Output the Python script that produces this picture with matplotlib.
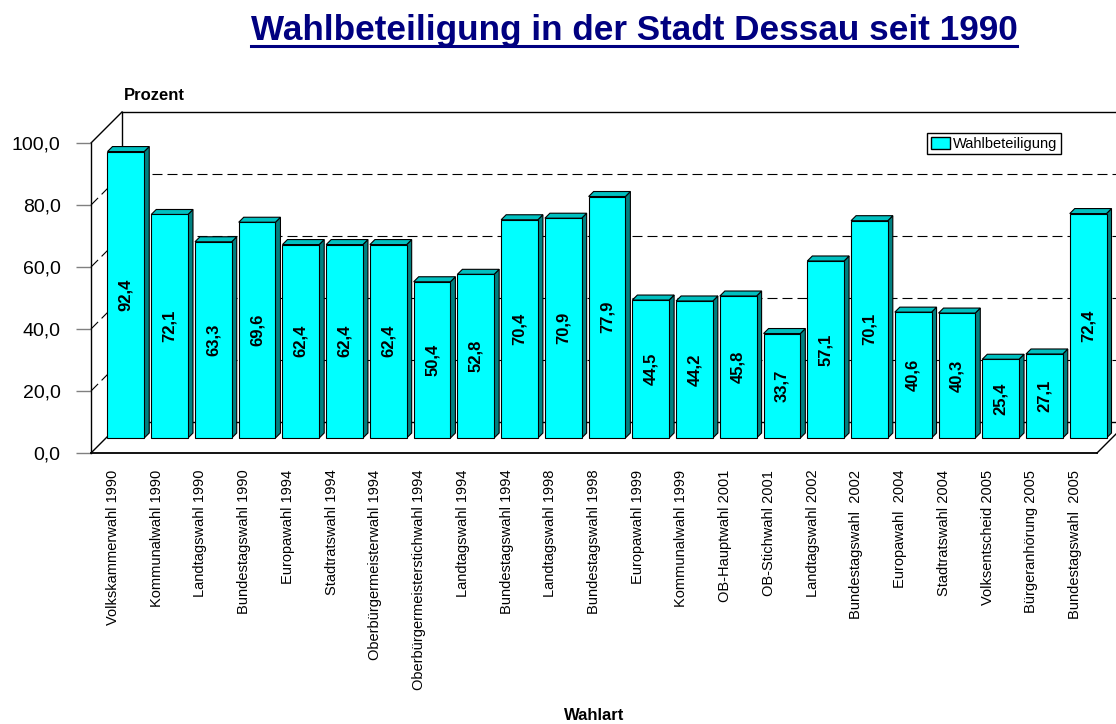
import matplotlib.pyplot as plt
from matplotlib.patches import Polygon, Patch
from matplotlib.lines import Line2D
from matplotlib.transforms import ScaledTranslation

plt.rcParams['font.family'] = ['Liberation Sans', 'DejaVu Sans']

# data
wahlen = ["Volkskammerwahl 1990", "Kommunalwahl 1990", "Landtagswahl 1990",
          "Bundestagswahl 1990", "Europawahl 1994", "Stadtratswahl 1994",
          "Oberbürgermeisterwahl 1994", "Oberbürgermeisterstichwahl 1994",
          "Landtagswahl 1994", "Bundestagswahl 1994", "Landtagswahl 1998",
          "Bundestagswahl 1998", "Europawahl 1999", "Kommunalwahl 1999",
          "OB-Hauptwahl 2001", "OB-Stichwahl 2001", "Landtagswahl 2002",
          "Bundestagswahl  2002", "Europawahl  2004", "Stadtratswahl 2004",
          "Volksentscheid 2005", "Bürgeranhörung 2005", "Bundestagswahl  2005"]
beteiligung = [92.4, 72.1, 63.3, 69.6, 62.4, 62.4, 62.4, 50.4, 52.8, 70.4, 70.9,
               77.9, 44.5, 44.2, 45.8, 33.7, 57.1, 70.1, 40.6, 40.3, 25.4, 27.1, 72.4]
y_ticks = [0, 20, 40, 60, 80, 100]
y_ticklabels = ["0,0", "20,0", "40,0", "60,0", "80,0", "100,0"]

FACE = "#00FFFF"
TOP = "#00C0C0"
SIDE = "#008080"

W, H, DPI = 1116, 724, 100
fig = plt.figure(figsize=(W / DPI, H / DPI), dpi=DPI)

# front plane of the fake 3d box, in pixels
left, right, bottom, top = 91, 1097, 453, 143
ax = fig.add_axes([left / W, 1 - bottom / H, (right - left) / W, (bottom - top) / H])
n = len(wahlen)
ax.set_xlim(-0.5, n - 0.5)
ax.set_ylim(0, 100)

# pixel -> data unit helpers
px_x = n / (right - left)
px_y = 100 / (bottom - top)
depth = 31          # full depth of the box
bar_depth = 5       # depth of each bar
DX, DY = depth * px_x, depth * px_y

line_kw = dict(color="black", lw=1, clip_on=False, zorder=1)
dash_kw = dict(color="black", lw=0.8, clip_on=False, zorder=1, dashes=(9, 4.5))

x0, x1 = -0.5, n - 0.5
# walls and floor
ax.plot([x0, x0 + DX], [100, 100 + DY], **line_kw)
ax.plot([x0 + DX, x0 + DX], [DY, 100 + DY], **line_kw)
ax.plot([x0 + DX, x1 + DX], [100 + DY, 100 + DY], **line_kw)
ax.plot([x0 + DX, x1 + DX], [DY, DY], **line_kw)
ax.plot([x0, x0 + DX], [0, DY], **line_kw)
ax.plot([x1, x1 + DX], [0, DY], **line_kw)
for v in y_ticks[1:-1]:
    ax.plot([x0 + DX, x1 + DX], [v + DY, v + DY], **dash_kw)
    ax.plot([x0, x0 + DX], [v, v + DY], **dash_kw)

# bars: front face through ax.bar, shifted into the box
face_tr = ax.transData + ScaledTranslation(13 / DPI, 15 / DPI, fig.dpi_scale_trans)
bw = 0.84
bdx, bdy = bar_depth * px_x, bar_depth * px_y
xs = list(range(n))
for i, v in enumerate(beteiligung):
    xa, xb = i - bw / 2, i + bw / 2
    ax.add_patch(Polygon([(xb, 0), (xb, v), (xb + bdx, v + bdy), (xb + bdx, bdy)],
                         closed=True, facecolor=SIDE, edgecolor="black", lw=0.8,
                         transform=face_tr, clip_on=False, zorder=2))
    ax.add_patch(Polygon([(xa, v), (xb, v), (xb + bdx, v + bdy), (xa + bdx, v + bdy)],
                         closed=True, facecolor=TOP, edgecolor="black", lw=0.8,
                         transform=face_tr, clip_on=False, zorder=2))
bars = ax.bar(xs, beteiligung, width=bw, color=FACE, edgecolor="black", lw=0.8,
              transform=face_tr, clip_on=False, zorder=3)
for i, v in enumerate(beteiligung):
    ax.text(i, v / 2, f"{v:.1f}".replace(".", ","), transform=face_tr,
            rotation=90, ha="center", va="center", fontsize=12,
            fontweight="bold", zorder=4)

# axes
for s in ["top", "right"]:
    ax.spines[s].set_visible(False)
ax.spines["left"].set_linewidth(1)
ax.spines["bottom"].set_linewidth(1.3)
ax.set_yticks(y_ticks)
ax.set_yticklabels(y_ticklabels, fontsize=14)
ax.tick_params(axis="y", length=10.8, width=1, color="#808080", pad=11)
ax.set_xticks(xs)
ax.set_xticklabels(wahlen, rotation=90, fontsize=10.5)
ax.tick_params(axis="x", length=0, pad=12)

fig.text(154 / W, 1 - 95 / H, "Prozent", ha="center", va="center",
         fontsize=12, fontweight="bold")
fig.text(594 / W, 1 - 715 / H, "Wahlart", ha="center", va="center",
         fontsize=12, fontweight="bold")

ax.legend([Patch(facecolor=FACE, edgecolor="black", lw=1)], ["Wahlbeteiligung"],
          loc="upper left", bbox_to_anchor=(927 / W, 1 - 133 / H),
          bbox_transform=fig.transFigure, borderaxespad=0, fontsize=10.5,
          fancybox=False, framealpha=1, edgecolor="black", borderpad=0.25,
          handlelength=1.3, handleheight=0.9, handletextpad=0.2)

# title with underline
title = fig.text(634 / W, 1 - 40 / H, "Wahlbeteiligung in der Stadt Dessau seit 1990",
                 ha="center", va="baseline", fontsize=25.3, fontweight="bold",
                 color="#000080")
fig.canvas.draw()
bb = title.get_window_extent().transformed(fig.transFigure.inverted())
uy = 1 - 45.5 / H
fig.add_artist(Line2D([bb.x0, bb.x1], [uy, uy], transform=fig.transFigure,
                      color="#000080", lw=2.2))

fig.savefig("out.png", dpi=DPI)
